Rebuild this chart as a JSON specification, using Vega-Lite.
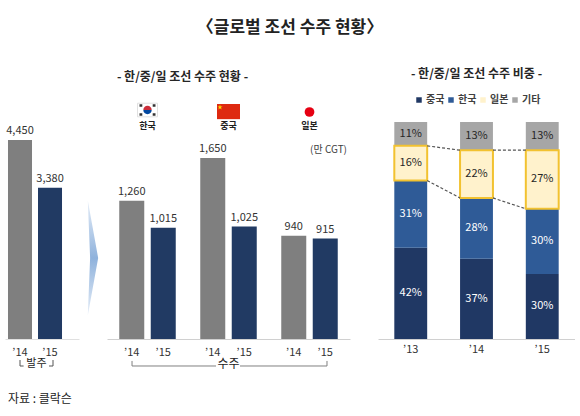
{
  "$schema": "https://vega.github.io/schema/vega-lite/v6.json",
  "background": "white",
  "padding": {"left": 5, "right": 0, "top": 19, "bottom": 0},
  "config": {
    "font": "Noto Sans CJK KR",
    "view": {"stroke": null},
    "axis": {"grid": false, "ticks": false, "title": null, "domainColor": "#d0d0d0", "labelColor": "#333333", "labelFontSize": 11, "labelAngle": 0}
  },
  "title": {"text": "〈글로벌 조선 수주 현황〉", "fontSize": 17, "fontWeight": "bold", "color": "#222222", "anchor": "middle", "offset": 31},
  "bounds": "flush",
  "spacing": 28,
  "resolve": {"scale": {"color": "independent", "x": "independent", "y": "independent"}, "legend": {"color": "independent"}},
  "datasets": {
    "countries": [{"country": "한국"}, {"country": "중국"}, {"country": "일본"}],
    "notes": [{"kind": "balju", "label": "발주"}, {"kind": "source", "label": "자료 : 클락슨"}, {"kind": "unit", "label": "(만 CGT)"}, {"kind": "suju", "label": "수주"}],
    "shares": [
      {"year": "’13", "country": "중국", "share": 0.42},
      {"year": "’13", "country": "한국", "share": 0.31},
      {"year": "’13", "country": "일본", "share": 0.16},
      {"year": "’13", "country": "기타", "share": 0.11},
      {"year": "’14", "country": "중국", "share": 0.37},
      {"year": "’14", "country": "한국", "share": 0.28},
      {"year": "’14", "country": "일본", "share": 0.22},
      {"year": "’14", "country": "기타", "share": 0.13},
      {"year": "’15", "country": "중국", "share": 0.30},
      {"year": "’15", "country": "한국", "share": 0.30},
      {"year": "’15", "country": "일본", "share": 0.27},
      {"year": "’15", "country": "기타", "share": 0.13}
    ],
    "links": [
      {"from": "’13", "to": "’14", "a": 0.89, "b": 0.87},
      {"from": "’14", "to": "’15", "a": 0.87, "b": 0.87},
      {"from": "’13", "to": "’14", "a": 0.73, "b": 0.65},
      {"from": "’14", "to": "’15", "a": 0.65, "b": 0.60}
    ]
  },
  "hconcat": [
    {
      "width": 74,
      "height": 227,
      "data": {"values": [{"year": "’14", "orders": 4450}, {"year": "’15", "orders": 3380}]},
      "encoding": {
        "x": {"field": "year", "type": "nominal", "scale": {"domain": ["’14", "’15"], "paddingInner": 0.2, "paddingOuter": 0.333, "align": 0.15}, "axis": {"labelPadding": 7, "domainColor": "#e0e0e0"}}
      },
      "layer": [
        {
          "mark": {"type": "bar"},
          "encoding": {
            "y": {"field": "orders", "type": "quantitative", "scale": {"domain": [0, 5076], "nice": false}, "axis": null},
            "color": {"condition": {"test": "datum.year === '’14'", "value": "#7f7f7f"}, "value": "#213a63"}
          }
        },
        {
          "mark": {"type": "text", "baseline": "bottom", "dy": -4, "fontSize": 11, "color": "#333333"},
          "encoding": {
            "y": {"field": "orders", "type": "quantitative"},
            "text": {"field": "orders", "type": "quantitative", "format": ","}
          }
        },
        {
          "data": {"name": "notes"},
          "transform": [{"filter": "datum.kind === 'balju'"}],
          "mark": {"type": "rule", "color": "#555555", "strokeWidth": 1},
          "encoding": {"x": {"datum": "’14", "bandPosition": 0.5}, "x2": {"datum": "’14", "bandPosition": 0.65}, "y": {"datum": -604}}
        },
        {
          "data": {"name": "notes"},
          "transform": [{"filter": "datum.kind === 'balju'"}],
          "mark": {"type": "rule", "color": "#555555", "strokeWidth": 1},
          "encoding": {"x": {"datum": "’15", "bandPosition": 0.46}, "x2": {"datum": "’15", "bandPosition": 0.625}, "y": {"datum": -604}}
        },
        {
          "data": {"name": "notes"},
          "transform": [{"filter": "datum.kind === 'balju'"}],
          "mark": {"type": "rule", "color": "#555555", "strokeWidth": 1},
          "encoding": {"x": {"datum": "’14", "bandPosition": 0.5}, "y": {"datum": -604}, "y2": {"datum": -470}}
        },
        {
          "data": {"name": "notes"},
          "transform": [{"filter": "datum.kind === 'balju'"}],
          "mark": {"type": "rule", "color": "#555555", "strokeWidth": 1},
          "encoding": {"x": {"datum": "’15", "bandPosition": 0.625}, "y": {"datum": -604}, "y2": {"datum": -470}}
        },
        {
          "data": {"name": "notes"},
          "transform": [{"filter": "datum.kind === 'balju'"}],
          "mark": {"type": "text", "fontSize": 11, "color": "#222222", "baseline": "middle"},
          "encoding": {
            "x": {"datum": "’14", "bandPosition": 1.187},
            "y": {"datum": -570},
            "text": {"field": "label"}
          }
        },
        {
          "data": {"name": "notes"},
          "transform": [{"filter": "datum.kind === 'source'"}],
          "mark": {"type": "text", "fontSize": 12, "color": "#222222", "baseline": "middle", "align": "left"},
          "encoding": {
            "x": {"datum": "’14", "bandPosition": 0},
            "y": {"datum": -1340},
            "text": {"field": "label"}
          }
        }
      ]
    },
    {
      "width": 243,
      "height": 227,
      "title": {"text": "- 한/중/일 조선 수주 현황 -", "fontSize": 12, "fontWeight": "bold", "color": "#262626", "dx": -46, "offset": 18},
      "data": {"values": [
        {"country": "한국", "year": "’14", "orders": 1260},
        {"country": "한국", "year": "’15", "orders": 1015},
        {"country": "중국", "year": "’14", "orders": 1650},
        {"country": "중국", "year": "’15", "orders": 1025},
        {"country": "일본", "year": "’14", "orders": 940},
        {"country": "일본", "year": "’15", "orders": 915}
      ]},
      "encoding": {
        "x": {"field": "country", "type": "nominal", "scale": {"domain": ["한국", "중국", "일본"], "paddingInner": 0, "paddingOuter": 0}, "axis": {"labels": false, "domainColor": "#d0d0d0"}}
      },
      "layer": [
        {
          "mark": {"type": "bar"},
          "encoding": {
            "xOffset": {"field": "year", "type": "nominal", "scale": {"paddingInner": 0.206, "paddingOuter": 0.389}},
            "y": {"field": "orders", "type": "quantitative", "scale": {"domain": [0, 2069], "nice": false}, "axis": null},
            "color": {"condition": {"test": "datum.year === '’14'", "value": "#7f7f7f"}, "value": "#213a63"}
          }
        },
        {
          "mark": {"type": "text", "baseline": "bottom", "dy": -4, "fontSize": 11, "color": "#333333"},
          "encoding": {
            "xOffset": {"field": "year", "type": "nominal"},
            "y": {"field": "orders", "type": "quantitative"},
            "text": {"field": "orders", "type": "quantitative", "format": ","}
          }
        },
        {
          "mark": {"type": "text", "baseline": "middle", "dy": 14, "fontSize": 11, "color": "#333333"},
          "encoding": {
            "xOffset": {"field": "year", "type": "nominal"},
            "y": {"datum": 0},
            "text": {"field": "year"}
          }
        },
        {
          "data": {"name": "countries"},
          "mark": {"type": "text", "baseline": "middle", "fontSize": 9, "fontWeight": "bold", "color": "#222222"},
          "encoding": {"y": {"datum": 1941}, "text": {"field": "country"}}
        },
        {
          "data": {"name": "countries"},
          "transform": [{"filter": "datum.country === '한국'"}],
          "mark": {"type": "point", "shape": "M-1,-0.68H1V0.68H-1Z", "size": 400, "filled": true, "fill": "white", "stroke": "#d8d8d8", "strokeWidth": 0.8, "opacity": 1},
          "encoding": {"y": {"datum": 2087}}
        },
        {
          "data": {"name": "countries"},
          "transform": [{"filter": "datum.country === '한국'"}],
          "mark": {"type": "point", "shape": "M-0.8,-0.58L-0.52,-0.58L-0.52,-0.32L-0.8,-0.32Z M0.52,-0.58L0.8,-0.58L0.8,-0.32L0.52,-0.32Z M-0.8,0.32L-0.52,0.32L-0.52,0.58L-0.8,0.58Z M0.52,0.32L0.8,0.32L0.8,0.58L0.52,0.58Z", "size": 400, "filled": true, "fill": "#333333", "strokeWidth": 0, "opacity": 1},
          "encoding": {"y": {"datum": 2087}}
        },
        {
          "data": {"name": "countries"},
          "transform": [{"filter": "datum.country === '한국'"}],
          "mark": {"type": "point", "shape": "M-1,0A1,1 0 0 1 1,0Z", "size": 70, "filled": true, "fill": "#cd2e3a", "strokeWidth": 0, "opacity": 1},
          "encoding": {"y": {"datum": 2087}}
        },
        {
          "data": {"name": "countries"},
          "transform": [{"filter": "datum.country === '한국'"}],
          "mark": {"type": "point", "shape": "M-1,0A1,1 0 0 0 1,0Z", "size": 70, "filled": true, "fill": "#0047a0", "strokeWidth": 0, "opacity": 1},
          "encoding": {"y": {"datum": 2087}}
        },
        {
          "data": {"name": "countries"},
          "transform": [{"filter": "datum.country === '중국'"}],
          "mark": {"type": "point", "shape": "M-1,-0.66H1V0.66H-1Z", "size": 529, "filled": true, "fill": "#de2910", "strokeWidth": 0, "opacity": 1},
          "encoding": {"y": {"datum": 2073}}
        },
        {
          "data": {"name": "countries"},
          "transform": [{"filter": "datum.country === '중국'"}],
          "mark": {"type": "point", "shape": "M0,-1L0.2245,-0.309L0.951,-0.309L0.363,0.118L0.588,0.809L0,0.382L-0.588,0.809L-0.363,0.118L-0.951,-0.309L-0.2245,-0.309Z", "size": 30, "filled": true, "fill": "#ffde00", "strokeWidth": 0, "opacity": 1},
          "encoding": {"x": {"field": "country", "type": "nominal", "bandPosition": 0.395}, "y": {"datum": 2112}}
        },
        {
          "data": {"name": "countries"},
          "transform": [{"filter": "datum.country === '일본'"}],
          "mark": {"type": "point", "shape": "circle", "size": 95, "filled": true, "fill": "#e60012", "strokeWidth": 0, "opacity": 1},
          "encoding": {"y": {"datum": 2069}}
        },
        {
          "data": {"name": "countries"},
          "transform": [{"filter": "datum.country === '한국'"}],
          "mark": {"type": "point", "shape": "M-0.09,-1L0.09,0L-0.09,1L-0.05,0Z", "size": 13225, "filled": true, "strokeWidth": 0, "opacity": 1,
            "fill": {"gradient": "linear", "x1": 0, "y1": 0, "x2": 0, "y2": 1, "stops": [{"offset": 0, "color": "#e6eef8"}, {"offset": 0.5, "color": "#8fb2dc"}, {"offset": 1, "color": "#e6eef8"}]}},
          "encoding": {"x": {"field": "country", "type": "nominal", "bandPosition": -0.173}, "y": {"datum": 738}}
        },
        {
          "data": {"name": "notes"},
          "transform": [{"filter": "datum.kind === 'unit'"}],
          "mark": {"type": "text", "align": "right", "baseline": "middle", "dx": -3, "fontSize": 10, "color": "#404040"},
          "encoding": {"x": {"datum": "일본", "bandPosition": 1}, "y": {"datum": 1723}, "text": {"field": "label"}}
        },
        {
          "data": {"name": "notes"},
          "transform": [{"filter": "datum.kind === 'suju'"}],
          "mark": {"type": "rule", "color": "#808080", "strokeWidth": 1},
          "encoding": {"x": {"datum": "한국", "bandPosition": 0.309}, "x2": {"datum": "중국", "bandPosition": 0.346}, "y": {"datum": -246}}
        },
        {
          "data": {"name": "notes"},
          "transform": [{"filter": "datum.kind === 'suju'"}],
          "mark": {"type": "rule", "color": "#808080", "strokeWidth": 1},
          "encoding": {"x": {"datum": "중국", "bandPosition": 0.642}, "x2": {"datum": "일본", "bandPosition": 0.716}, "y": {"datum": -246}}
        },
        {
          "data": {"name": "notes"},
          "transform": [{"filter": "datum.kind === 'suju'"}],
          "mark": {"type": "rule", "color": "#808080", "strokeWidth": 1},
          "encoding": {"x": {"datum": "한국", "bandPosition": 0.309}, "y": {"datum": -246}, "y2": {"datum": -200}}
        },
        {
          "data": {"name": "notes"},
          "transform": [{"filter": "datum.kind === 'suju'"}],
          "mark": {"type": "rule", "color": "#808080", "strokeWidth": 1},
          "encoding": {"x": {"datum": "일본", "bandPosition": 0.716}, "y": {"datum": -246}, "y2": {"datum": -200}}
        },
        {
          "data": {"name": "notes"},
          "transform": [{"filter": "datum.kind === 'suju'"}],
          "mark": {"type": "text", "baseline": "middle", "fontSize": 12, "color": "#222222"},
          "encoding": {"x": {"datum": "중국"}, "y": {"datum": -230}, "text": {"field": "label"}}
        }
      ]
    },
    {
      "width": 197,
      "height": 227,
      "title": {"text": "- 한/중/일 조선 수주 비중 -", "fontSize": 12, "fontWeight": "bold", "color": "#262626", "offset": 14},
      "encoding": {
        "x": {"field": "year", "type": "nominal", "scale": {"domain": ["’13", "’14", "’15"], "paddingInner": 0.5, "paddingOuter": 0.248}, "axis": {"labelPadding": 4, "domainColor": "#d0d0d0"}}
      },
      "layer": [
        {
          "data": {"name": "shares"},
          "transform": [
            {"calculate": "indexof(['중국','한국','일본','기타'], datum.country)", "as": "ord"},
            {"stack": "share", "groupby": ["year"], "sort": [{"field": "ord", "order": "ascending"}], "as": ["y0", "y1"]}
          ],
          "mark": {"type": "bar"},
          "encoding": {
            "y": {"field": "y0", "type": "quantitative", "scale": {"domain": [0, 1.046], "nice": false}, "axis": null},
            "y2": {"field": "y1"},
            "color": {"field": "country", "type": "nominal",
              "scale": {"domain": ["중국", "한국", "일본", "기타"], "range": ["#203864", "#2f5b97", "#fff2cc", "#a6a6a6"]},
              "legend": {"orient": "none", "legendX": 36, "legendY": -17, "direction": "horizontal", "title": null, "symbolType": "square", "symbolSize": 30, "symbolStrokeWidth": 0, "labelFontSize": 10, "labelFontWeight": "bold", "labelColor": "#404040", "columnPadding": 1, "labelOffset": 2}}
          }
        },
        {
          "data": {"name": "shares"},
          "transform": [
            {"calculate": "indexof(['중국','한국','일본','기타'], datum.country)", "as": "ord"},
            {"stack": "share", "groupby": ["year"], "sort": [{"field": "ord", "order": "ascending"}], "as": ["y0", "y1"]},
            {"filter": "datum.country === '일본'"}
          ],
          "mark": {"type": "bar", "fill": "#fff2cc", "stroke": "#f2c230", "strokeWidth": 2},
          "encoding": {
            "y": {"field": "y0", "type": "quantitative"},
            "y2": {"field": "y1"}
          }
        },
        {
          "data": {"name": "links"},
          "mark": {"type": "rule", "color": "#555555", "strokeWidth": 1.2, "strokeDash": [3, 2]},
          "encoding": {
            "x": {"field": "from", "type": "nominal", "bandPosition": 1},
            "x2": {"field": "to", "bandPosition": 0},
            "y": {"field": "a", "type": "quantitative"},
            "y2": {"field": "b"}
          }
        },
        {
          "data": {"name": "shares"},
          "transform": [
            {"calculate": "indexof(['중국','한국','일본','기타'], datum.country)", "as": "ord"},
            {"stack": "share", "groupby": ["year"], "sort": [{"field": "ord", "order": "ascending"}], "as": ["y0", "y1"]},
            {"calculate": "(datum.y0 + datum.y1) / 2", "as": "mid"}
          ],
          "mark": {"type": "text", "fontSize": 11, "baseline": "middle"},
          "encoding": {
            "y": {"field": "mid", "type": "quantitative"},
            "text": {"field": "share", "type": "quantitative", "format": ".0%"},
            "color": {"condition": {"test": "datum.country === '중국' || datum.country === '한국'", "value": "white"}, "value": "#262626"}
          }
        }
      ]
    }
  ]
}
